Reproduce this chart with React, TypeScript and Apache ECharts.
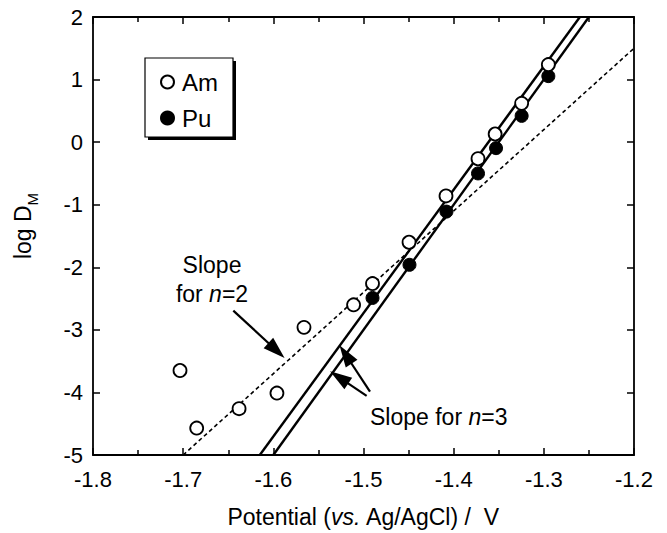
import React, { useEffect, useRef } from 'react';
import * as echarts from 'echarts';

// Am (open circles)
const amX = [-1.7035, -1.685, -1.638, -1.596, -1.566, -1.511, -1.49, -1.4495, -1.4085, -1.373, -1.354, -1.3246, -1.295];
const amY = [-3.65, -4.57, -4.26, -4.01, -2.96, -2.6, -2.26, -1.6, -0.86, -0.265, 0.13, 0.62, 1.24];
// Pu (filled circles)
const puX = [-1.49, -1.449, -1.408, -1.373, -1.353, -1.3246, -1.295];
const puY = [-2.49, -1.96, -1.11, -0.5, -0.096, 0.42, 1.055];
// fitted lines
const fitAmX = [-1.615, -1.26];
const fitAmY = [-5, 2];
const fitPuX = [-1.6, -1.25];
const fitPuY = [-5, 2];
const slope2X = [-1.7, -1.2];
const slope2Y = [-5, 1.5];
// annotation arrows [tailX, tailY, headCentreX, headCentreY]
const arrowN2 = [-1.6444, -2.693, -1.5965, -3.329];
const arrowN3a = [-1.4928, -3.987, -1.5199, -3.394];
const arrowN3b = [-1.4965, -4.055, -1.527, -3.76];

const FONT = '"Liberation Sans", Arial, Helvetica, sans-serif';

const zip = (xs: number[], ys: number[]) => xs.map((x, i) => [x, ys[i]]);

export default function App() {
  const ref = useRef<HTMLDivElement>(null);
  useEffect(() => {
    if (!ref.current) return;
    const chart = echarts.init(ref.current, undefined, { renderer: 'svg' });
    const axisLine = { show: true, onZero: false, lineStyle: { color: '#000', width: 1.8 } };
    const tick = { show: true, inside: true, length: 7, lineStyle: { color: '#000', width: 1.5 } };
    const xBase = {
      type: 'value' as const,
      min: -1.8,
      max: -1.2,
      interval: 0.1,
      axisLine,
      axisTick: tick,
      minorTick: { show: true, splitNumber: 2, length: 5, lineStyle: { color: '#000', width: 1.5 } },
      splitLine: { show: false },
      minorSplitLine: { show: false },
    };
    const yBase = {
      type: 'value' as const,
      min: -5,
      max: 2,
      interval: 1,
      axisLine,
      axisTick: tick,
      splitLine: { show: false },
    };
    const arrowLine = (a: number[]) => [
      { coord: [a[0], a[1]] },
      { coord: [a[2], a[3]] },
    ];
    chart.setOption({
      animation: false,
      backgroundColor: '#fff',
      grid: { left: 93, right: 33, top: 17, bottom: 74 },
      xAxis: [
        {
          ...xBase,
          position: 'bottom',
          axisLabel: {
            color: '#000',
            fontSize: 22,
            fontFamily: FONT,
            margin: 13,
            formatter: (v: number) => v.toFixed(1),
          },
          name: 'Potential ({i|vs.} Ag/AgCl) /  V',
          nameLocation: 'middle',
          nameGap: 50,
          nameTextStyle: {
            color: '#000',
            fontSize: 23,
            fontFamily: FONT,
            rich: { i: { fontStyle: 'italic', fontSize: 23, fontFamily: FONT, color: '#000' } },
          },
        },
        { ...xBase, position: 'top', axisLabel: { show: false } },
      ],
      yAxis: [
        {
          ...yBase,
          position: 'left',
          axisLabel: {
            color: '#000',
            fontSize: 22,
            fontFamily: FONT,
            margin: 10,
            formatter: (v: number) => String(v),
          },
          name: '{a|log D}{s|M}',
          nameLocation: 'middle',
          nameGap: 53,
          nameTextStyle: {
            color: '#000',
            padding: [0, 0, 0, 20],
            rich: {
              a: { fontSize: 23, fontFamily: FONT, color: '#000', lineHeight: 34, verticalAlign: 'middle' },
              s: { fontSize: 15, fontFamily: FONT, color: '#000', lineHeight: 15, verticalAlign: 'bottom' },
            },
          },
        },
        { ...yBase, position: 'right', axisLabel: { show: false } },
      ],
      legend: {
        data: ['Am', 'Pu'],
        orient: 'vertical',
        left: 160,
        top: 70,
        padding: 0,
        itemWidth: 13,
        itemHeight: 13,
        itemGap: 12,
        z: 10,
        textStyle: { color: '#000', fontSize: 24, fontFamily: FONT, lineHeight: 24, padding: [0, 0, 0, 3] },
      },
      graphic: [
        { type: 'rect', z: 1, shape: { x: 148, y: 61, width: 88, height: 79 }, style: { fill: '#000' } },
        { type: 'rect', z: 2, shape: { x: 145, y: 58, width: 88, height: 79 }, style: { fill: '#fff', stroke: '#000', lineWidth: 1.2 } },
        {
          type: 'text',
          z: 5,
          x: 212,
          y: 279,
          style: {
            text: 'Slope\nfor {i|n}=2',
            align: 'center',
            verticalAlign: 'middle',
            fill: '#000',
            fontSize: 23,
            fontFamily: FONT,
            lineHeight: 29,
            rich: { i: { fontStyle: 'italic', fontSize: 23, fontFamily: FONT, fill: '#000', lineHeight: 29 } },
          },
        },
        {
          type: 'text',
          z: 5,
          x: 370,
          y: 417,
          style: {
            text: 'Slope for {i|n}=3',
            align: 'left',
            verticalAlign: 'middle',
            fill: '#000',
            fontSize: 23,
            fontFamily: FONT,
            rich: { i: { fontStyle: 'italic', fontSize: 23, fontFamily: FONT, fill: '#000' } },
          },
        },
      ],
      series: [
        {
          name: 'n=3 fit (Am)',
          type: 'line',
          data: zip(fitAmX, fitAmY),
          showSymbol: false,
          symbol: 'none',
          lineStyle: { color: '#000', width: 2.4 },
          z: 2,
          markLine: {
            silent: true,
            symbol: ['none', 'triangle'],
            symbolSize: [14, 22],
            label: { show: false },
            lineStyle: { color: '#000', width: 2.2, type: 'solid', opacity: 1 },
            itemStyle: { color: '#000' },
            data: [arrowLine(arrowN2), arrowLine(arrowN3a), arrowLine(arrowN3b)],
          },
        },
        {
          name: 'n=3 fit (Pu)',
          type: 'line',
          data: zip(fitPuX, fitPuY),
          showSymbol: false,
          symbol: 'none',
          lineStyle: { color: '#000', width: 2.4 },
          z: 2,
        },
        {
          name: 'n=2 slope',
          type: 'line',
          data: zip(slope2X, slope2Y),
          showSymbol: false,
          symbol: 'none',
          lineStyle: { color: '#000', width: 1.6, type: [4, 3] },
          z: 2,
        },
        {
          name: 'Am',
          type: 'scatter',
          data: zip(amX, amY),
          symbol: 'circle',
          symbolSize: 13,
          itemStyle: { color: '#fff', borderColor: '#000', borderWidth: 1.8, opacity: 1 },
          z: 5,
        },
        {
          name: 'Pu',
          type: 'scatter',
          data: zip(puX, puY),
          symbol: 'circle',
          symbolSize: 13,
          itemStyle: { color: '#000', borderColor: '#000', borderWidth: 1, opacity: 1 },
          z: 4,
        },
      ],
    });
    return () => chart.dispose();
  }, []);
  return <div ref={ref} style={{ position: 'absolute', left: 0, top: 0, width: 667, height: 533 }} />;
}
